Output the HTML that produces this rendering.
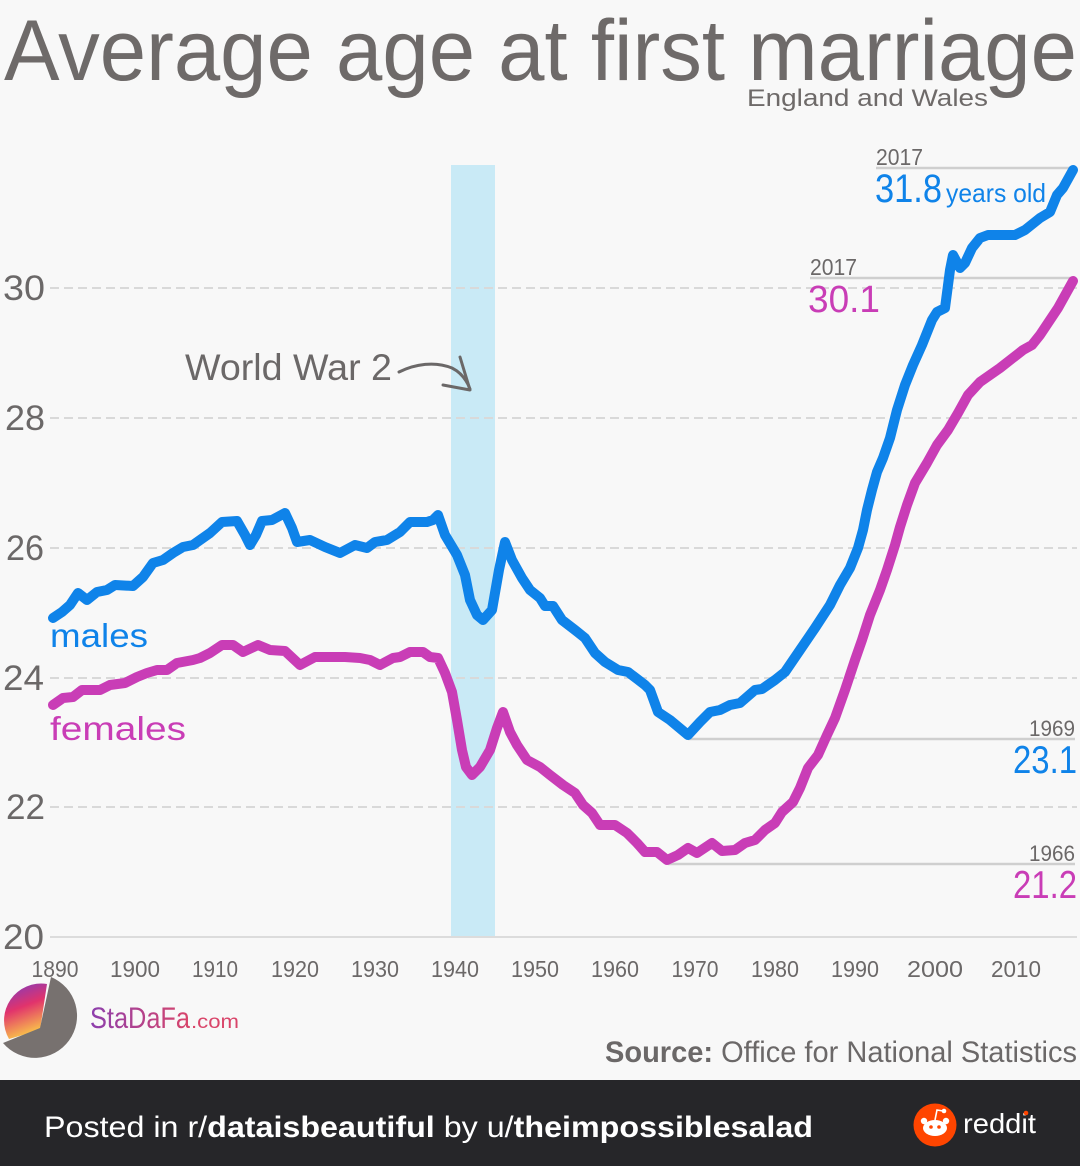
<!DOCTYPE html>
<html><head><meta charset="utf-8"><style>
html,body{margin:0;padding:0;background:#f8f8f8;}
svg{display:block;}
text{font-family:"Liberation Sans",sans-serif;}
</style></head><body>
<svg width="1080" height="1166" viewBox="0 0 1080 1166" xmlns="http://www.w3.org/2000/svg">
<defs>
<linearGradient id="pg" x1="0" y1="0" x2="0.3" y2="1">
<stop offset="0" stop-color="#7a3cc4"/><stop offset="0.5" stop-color="#e1336c"/><stop offset="1" stop-color="#f9c24a"/>
</linearGradient>
<linearGradient id="tg" x1="0" y1="0" x2="1" y2="0">
<stop offset="0" stop-color="#8c3fae"/><stop offset="1" stop-color="#d9456a"/>
</linearGradient>
</defs>
<rect x="0" y="0" width="1080" height="1166" fill="#f8f8f8"/>

<!-- Title -->
<text x="4" y="80" font-size="86" fill="#6e6a69" textLength="1073" lengthAdjust="spacingAndGlyphs">Average age at first marriage</text>
<text x="747" y="106" font-size="24" fill="#6e6a69" textLength="241" lengthAdjust="spacingAndGlyphs">England and Wales</text>

<!-- WW2 band -->
<rect x="451" y="165" width="44" height="771" fill="#c9eaf6"/>

<!-- Grid -->
<g stroke="#d9d9d9" stroke-width="2" stroke-dasharray="9,5">
<line x1="50" y1="288" x2="1077" y2="288"/>
<line x1="50" y1="418" x2="1077" y2="418"/>
<line x1="50" y1="548" x2="1077" y2="548"/>
<line x1="50" y1="678" x2="1077" y2="678"/>
<line x1="50" y1="807" x2="1077" y2="807"/>
</g>
<line x1="50" y1="937" x2="1077" y2="937" stroke="#dcdcdc" stroke-width="2"/>

<!-- Y labels -->
<g font-size="35" fill="#6b6868">
<text x="3" y="300" textLength="42" lengthAdjust="spacingAndGlyphs">30</text>
<text x="5" y="430" textLength="40" lengthAdjust="spacingAndGlyphs">28</text>
<text x="6" y="560" textLength="38" lengthAdjust="spacingAndGlyphs">26</text>
<text x="3" y="690" textLength="41" lengthAdjust="spacingAndGlyphs">24</text>
<text x="6" y="819" textLength="39" lengthAdjust="spacingAndGlyphs">22</text>
<text x="3" y="949" textLength="41" lengthAdjust="spacingAndGlyphs">20</text>
</g>

<!-- X labels -->
<g font-size="23" fill="#6b6868" text-anchor="middle">
<text x="55" y="977" textLength="47" lengthAdjust="spacingAndGlyphs">1890</text>
<text x="135" y="977" textLength="50" lengthAdjust="spacingAndGlyphs">1900</text>
<text x="215" y="977" textLength="46" lengthAdjust="spacingAndGlyphs">1910</text>
<text x="295" y="977" textLength="48" lengthAdjust="spacingAndGlyphs">1920</text>
<text x="375" y="977" textLength="48" lengthAdjust="spacingAndGlyphs">1930</text>
<text x="455" y="977" textLength="48" lengthAdjust="spacingAndGlyphs">1940</text>
<text x="535" y="977" textLength="48" lengthAdjust="spacingAndGlyphs">1950</text>
<text x="615" y="977" textLength="48" lengthAdjust="spacingAndGlyphs">1960</text>
<text x="695" y="977" textLength="47" lengthAdjust="spacingAndGlyphs">1970</text>
<text x="775" y="977" textLength="48" lengthAdjust="spacingAndGlyphs">1980</text>
<text x="855" y="977" textLength="48" lengthAdjust="spacingAndGlyphs">1990</text>
<text x="935" y="977" textLength="56" lengthAdjust="spacingAndGlyphs">2000</text>
<text x="1016" y="977" textLength="50" lengthAdjust="spacingAndGlyphs">2010</text>
</g>

<!-- Reference lines -->
<g stroke="#cfcfcf" stroke-width="2.5">
<line x1="876" y1="168" x2="1073" y2="168"/>
<line x1="810" y1="278" x2="1075" y2="278"/>
<line x1="688" y1="739" x2="1075" y2="739"/>
<line x1="668" y1="864" x2="1075" y2="864"/>
</g>

<!-- Series -->
<polyline fill="none" stroke="#c93db6" stroke-width="10" stroke-linejoin="round" stroke-linecap="round" points="53,705 63,698 73,697 82,690 100,690 110,685 125,683 137,677 147,673 157,670 167,670 177,663 193,660 200,658 210,653 222,645 233,645 243,652 258,645 270,650 285,651 300,665 315,657 330,657 345,657 360,658 370,660 380,665 393,658 400,657 410,652 423,652 430,657 438,658 445,673 452,692 457,720 462,750 466,767 472,775 480,767 490,750 497,728 503,712 510,732 517,745 527,760 540,767 550,775 563,785 575,793 583,805 592,813 600,825 615,825 627,833 637,843 645,852 657,852 667,860 678,855 688,848 697,853 712,843 722,851 735,850 745,843 755,840 765,830 775,823 782,812 793,802 800,788 808,768 818,755 827,735 835,718 845,690 855,660 862,640 870,615 880,590 887,570 895,545 900,527 907,505 915,483 927,463 937,445 948,430 958,413 968,395 980,382 1000,368 1023,350 1032,345 1040,335 1058,308 1073,281"/>
<polyline fill="none" stroke="#0f83e9" stroke-width="10" stroke-linejoin="round" stroke-linecap="round" points="53,618 62,612 70,605 78,593 87,600 97,592 107,590 115,585 133,586 143,577 153,563 163,560 173,553 183,547 193,545 210,533 222,522 237,521 245,535 250,545 256,535 262,521 272,520 285,513 292,528 297,542 310,540 325,547 340,553 355,545 367,548 375,542 387,540 400,532 410,522 427,522 433,520 438,515 445,535 457,555 465,575 470,600 477,615 483,620 492,610 499,570 505,542 512,560 522,578 530,590 540,598 545,606 553,606 562,620 575,630 585,638 595,653 605,662 618,670 628,672 645,685 650,690 658,712 670,720 688,735 700,722 710,712 720,710 730,705 740,703 755,690 762,689 775,680 785,672 800,650 815,628 830,605 840,585 850,568 858,548 863,530 867,510 872,490 877,472 883,458 890,438 897,410 905,385 913,365 922,345 932,320 937,312 945,308 950,270 953,255 960,268 965,263 972,248 980,238 988,235 1015,235 1025,230 1040,218 1050,212 1057,195 1063,188 1073,170"/>

<!-- Annotations -->
<text x="876" y="165" font-size="23" fill="#6b6868" textLength="47" lengthAdjust="spacingAndGlyphs">2017</text>
<text x="875" y="202" font-size="40" fill="#0f83e9" textLength="67" lengthAdjust="spacingAndGlyphs">31.8</text>
<text x="946" y="202" font-size="26" fill="#0f83e9" textLength="100" lengthAdjust="spacingAndGlyphs">years old</text>
<text x="810" y="275" font-size="23" fill="#6b6868" textLength="47" lengthAdjust="spacingAndGlyphs">2017</text>
<text x="808" y="312" font-size="38" fill="#c93db6" textLength="72" lengthAdjust="spacingAndGlyphs">30.1</text>
<text x="1075" y="736" font-size="22" fill="#6b6868" text-anchor="end" textLength="46" lengthAdjust="spacingAndGlyphs">1969</text>
<text x="1077" y="773" font-size="39" fill="#0f83e9" text-anchor="end" textLength="64" lengthAdjust="spacingAndGlyphs">23.1</text>
<text x="1075" y="861" font-size="22" fill="#6b6868" text-anchor="end" textLength="46" lengthAdjust="spacingAndGlyphs">1966</text>
<text x="1077" y="898" font-size="39" fill="#c93db6" text-anchor="end" textLength="64" lengthAdjust="spacingAndGlyphs">21.2</text>

<text x="50" y="647" font-size="33" fill="#0f83e9" textLength="98" lengthAdjust="spacingAndGlyphs">males</text>
<text x="50" y="740" font-size="33" fill="#c93db6" textLength="136" lengthAdjust="spacingAndGlyphs">females</text>

<text x="185" y="380" font-size="37" fill="#6b6868" textLength="207" lengthAdjust="spacingAndGlyphs">World War 2</text>
<path d="M399,372 C415,364 435,361 452,368 C462,373 467,381 470,389" fill="none" stroke="#6b6868" stroke-width="3" stroke-linecap="round"/>
<path d="M460,357 L470,390 L443,385" fill="none" stroke="#6b6868" stroke-width="3" stroke-linecap="round" stroke-linejoin="round"/>

<!-- StaDaFa logo -->
<path d="M40,1030 L9,1039 A37,37 0 0,1 47,984 Z" fill="url(#pg)"/>
<path d="M40,1028 L51,977 A42,42 0 1,1 3,1043 Z" fill="#77716f"/>
<text x="90" y="1028" font-size="30" fill="url(#tg)" textLength="100" lengthAdjust="spacingAndGlyphs">StaDaFa</text>
<text x="191" y="1028" font-size="19" fill="#d9456a" textLength="48" lengthAdjust="spacingAndGlyphs">.com</text>

<!-- Source -->
<text x="605" y="1062" font-size="30" fill="#6b6868" textLength="472" lengthAdjust="spacingAndGlyphs"><tspan font-weight="bold">Source:</tspan> Office for National Statistics</text>

<!-- Footer -->
<rect x="0" y="1080" width="1080" height="86" fill="#262629"/>
<text x="44" y="1137" font-size="30" fill="#ffffff" textLength="769" lengthAdjust="spacingAndGlyphs">Posted in r/<tspan font-weight="bold">dataisbeautiful</tspan> by u/<tspan font-weight="bold">theimpossiblesalad</tspan></text>
<circle cx="935" cy="1125" r="21.5" fill="#ff4500"/>
<ellipse cx="935" cy="1128" rx="12" ry="8" fill="#ffffff"/>
<circle cx="924" cy="1121" r="3.2" fill="#ffffff"/>
<circle cx="946" cy="1121" r="3.2" fill="#ffffff"/>
<circle cx="931" cy="1127" r="1.8" fill="#ff4500"/>
<circle cx="939" cy="1127" r="1.8" fill="#ff4500"/>
<path d="M935,1120 L937,1110 L943,1111" fill="none" stroke="#ffffff" stroke-width="1.6"/>
<circle cx="944" cy="1111" r="2.3" fill="#ffffff"/>
<text x="963" y="1133" font-size="28" fill="#ffffff" textLength="73" lengthAdjust="spacingAndGlyphs">reddit</text>
<circle cx="1026" cy="1113" r="2.3" fill="#ff4500"/>
</svg>
</body></html>
